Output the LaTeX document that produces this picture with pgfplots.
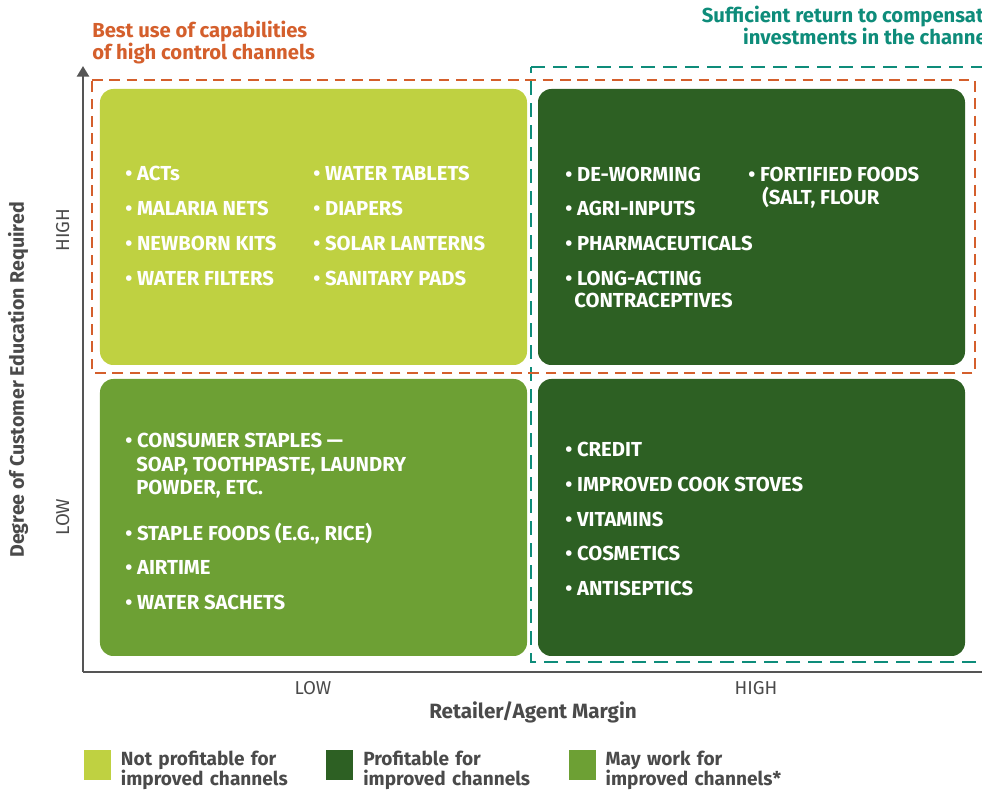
\documentclass[border=0pt]{standalone}
\usepackage{fontspec}
\setmainfont{Fira Sans}
\usepackage{pgfplots}
\pgfplotsset{compat=1.18}
\usetikzlibrary{arrows.meta}
\definecolor{lightg}{HTML}{BFD141}
\definecolor{darkg}{HTML}{2D6023}
\definecolor{midg}{HTML}{6DA034}
\definecolor{rust}{HTML}{D45F2C}
\definecolor{teal}{HTML}{0E8C7A}
\definecolor{axgray}{HTML}{555555}
\definecolor{txtgray}{HTML}{4A4A4A}

\newcommand\qfont{\fontsize{15.2}{18}\selectfont\bfseries}
% one line of a quadrant list, baseline at (x,y)
\newcommand\itm[3]{\node[anchor=base west, inner sep=0pt, text=white, font=\qfont] at (axis cs:#1,#2) {#3};}

\begin{document}
\begin{tikzpicture}
\begin{axis}[
  scale only axis,
  width=674.25pt, height=454.5pt,
  xmin=83, xmax=982, ymin=120, ymax=726,
  clip=false,
  axis lines=left,
  axis line style={line width=1.9pt, color=axgray},
  x axis line style={-},
  y axis line style={-{Triangle[length=8pt,width=9pt]}},
  major tick length=0pt,
  xtick={313,756}, xticklabels={LOW,HIGH},
  ytick={275,562}, yticklabels={LOW,HIGH},
  xticklabel style={font=\fontsize{14}{16}\selectfont, text=txtgray, yshift=-3.5pt},
  yticklabel style={font=\fontsize{14}{16}\selectfont, text=txtgray, rotate=90, anchor=south, inner sep=10pt},
  xlabel={Retailer/Agent Margin},
  ylabel={Degree of Customer Education Required},
  xlabel style={font=\fontsize{15.5}{18}\selectfont\bfseries, text=txtgray, at={(axis description cs:0.5006,-0.066)}, anchor=center},
  ylabel style={font=\fontsize{14.7}{18}\selectfont\bfseries, text=txtgray, at={(axis description cs:-0.0723,0.482)}, anchor=center},
  legend columns=3,
  legend style={at={(axis cs:84,42)}, anchor=north west, draw=none, fill=none,
    inner sep=0pt, outer sep=0pt,
    nodes={text width=154pt, align=left, inner sep=0pt, text=txtgray,
      font=\fontsize{14.3}{15}\selectfont\bfseries},
    /tikz/every odd column/.append style={column sep=7.5pt}},
  legend image code/.code={\fill[#1, sharp corners] (0pt,-15.5pt) rectangle (20.25pt,7pt);},
]
% quadrants
\addplot[fill=lightg, draw=none, rounded corners=10pt] coordinates {(313,703) (527,703) (527,427) (100,427) (100,703)} --cycle;
\addlegendentry{Not profitable for\\improved channels}
\addplot[fill=darkg, draw=none, rounded corners=10pt] coordinates {(751,703) (965,703) (965,427) (538,427) (538,703)} --cycle;
\addlegendentry{Profitable for\\improved channels}
\addplot[fill=midg, draw=none, rounded corners=10pt] coordinates {(313,413) (527,413) (527,136) (100,136) (100,413)} --cycle;
\addlegendentry{May work for\\improved channels*}
\addplot[fill=darkg, draw=none, rounded corners=10pt, forget plot] coordinates {(751,413) (965,413) (965,136) (538,136) (538,413)} --cycle;

% dashed frames
\addplot[draw=teal, line width=1.9pt, dash pattern=on 10.5pt off 6pt, forget plot] coordinates {(531,725) (995,725) (995,130) (531,130) (531,725)};
\addplot[draw=rust, line width=1.9pt, dash pattern=on 8pt off 5pt, forget plot] coordinates {(92,712) (975,712) (975,419) (92,419) (92,712)};

% top-left quadrant
\itm{125}{611}{• ACTs}
\itm{125}{576}{• MALARIA NETS}
\itm{125}{541}{• NEWBORN KITS}
\itm{125}{506}{• WATER FILTERS}
\itm{313}{611}{• WATER TABLETS}
\itm{313}{576}{• DIAPERS}
\itm{313}{541}{• SOLAR LANTERNS}
\itm{313}{506}{• SANITARY PADS}
% top-right quadrant
\itm{565}{610}{• DE-WORMING}
\itm{565}{576}{• AGRI-INPUTS}
\itm{565}{541}{• PHARMACEUTICALS}
\itm{565}{506}{• LONG-ACTING}
\itm{574}{484}{CONTRACEPTIVES}
\itm{748}{610}{• FORTIFIED FOODS}
\itm{762}{587}{(SALT, FLOUR}
% bottom-left quadrant
\itm{125}{344}{• CONSUMER STAPLES —}
\itm{136}{320}{SOAP, TOOTHPASTE, LAUNDRY}
\itm{136}{297}{POWDER, ETC.}
\itm{125}{251}{• STAPLE FOODS (E.G., RICE)}
\itm{125}{217}{• AIRTIME}
\itm{125}{182}{• WATER SACHETS}
% bottom-right quadrant
\itm{565}{335}{• CREDIT}
\itm{565}{300}{• IMPROVED COOK STOVES}
\itm{565}{265}{• VITAMINS}
\itm{565}{231}{• COSMETICS}
\itm{565}{196}{• ANTISEPTICS}

% frame titles
\node[anchor=base west, inner sep=0pt, text=rust, font=\qfont] at (axis cs:92,754) {Best use of capabilities};
\node[anchor=base west, inner sep=0pt, text=rust, font=\qfont] at (axis cs:92,732) {of high control channels};
\node[anchor=base east, inner sep=0pt, text=teal, font=\qfont] at (axis cs:995,769) {Sufficient return to compensate};
\node[anchor=base east, inner sep=0pt, text=teal, font=\qfont] at (axis cs:993,747) {investments in the channel};

\coordinate (pbl) at (axis cs:0,0);
\coordinate (ptr) at (axis cs:982,792);
\end{axis}
\pgfresetboundingbox
\path[use as bounding box] (pbl) rectangle (ptr);
\end{tikzpicture}
\end{document}
